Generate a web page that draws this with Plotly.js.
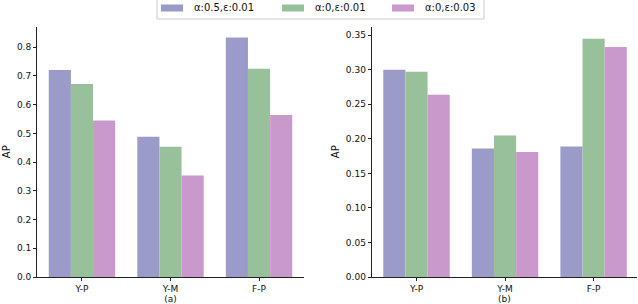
<!DOCTYPE html>
<html>
<head>
<meta charset="utf-8">
<script src="https://cdn.plot.ly/plotly-3.0.1.min.js"></script>
<style>html,body{margin:0;padding:0;background:#fff;}#chart{width:638px;height:304px;}</style>
</head>
<body>
<div id="chart"></div>
<script>
const categories = ["Y-P", "Y-M", "F-P"];
const seriesNames = ["α:0.5,ε:0.01", "α:0,ε:0.01", "α:0,ε:0.03"];
const seriesColors = ["#9b9bca", "#98c09a", "#ca99cb"];
// Panel (a)
const panelA_s1 = [0.721, 0.488, 0.834];
const panelA_s2 = [0.672, 0.453, 0.725];
const panelA_s3 = [0.545, 0.353, 0.564];
// Panel (b)
const panelB_s1 = [0.300, 0.186, 0.189];
const panelB_s2 = [0.297, 0.205, 0.345];
const panelB_s3 = [0.264, 0.181, 0.333];
const panelTitles = ["(a)", "(b)"];

const font = {family: "DejaVu Sans, sans-serif", size: 9, color: "#111"};
const titleFont = {family: "DejaVu Sans, sans-serif", size: 10, color: "#111"};
const A = [panelA_s1, panelA_s2, panelA_s3];
const B = [panelB_s1, panelB_s2, panelB_s3];
const traces = [];
[A, B].forEach((panel, p) => {
  panel.forEach((vals, i) => {
    traces.push({
      type: "bar", x: categories, y: vals, name: seriesNames[i],
      marker: {color: seriesColors[i], line: {width: 0}},
      xaxis: p === 0 ? "x" : "x2", yaxis: p === 0 ? "y" : "y2",
      showlegend: false, hoverinfo: "skip"
    });
  });
});

const xBase = {
  type: "category", showline: true, linecolor: "#222", linewidth: 1,
  ticks: "outside", ticklen: 3, tickcolor: "#222", showgrid: false, zeroline: false,
  tickfont: font, fixedrange: true
};
const yBase = {
  showline: true, linecolor: "#222", linewidth: 1,
  ticks: "outside", ticklen: 3, tickcolor: "#222", showgrid: false, zeroline: false,
  tickfont: font, fixedrange: true
};

const layout = {
  width: 638, height: 304,
  margin: {l: 0, r: 0, t: 0, b: 0},
  paper_bgcolor: "#fff", plot_bgcolor: "#fff",
  bargap: 0.25, bargroupgap: 0,
  barmode: "group",
  font: font,
  xaxis: Object.assign({}, xBase, {domain: [0.058, 0.4765], range: [-0.508, 2.508], anchor: "y",
    title: {text: panelTitles[0], font: font, standoff: 4}}),
  xaxis2: Object.assign({}, xBase, {domain: [0.5826, 0.9984], range: [-0.506, 2.49], anchor: "y2",
    title: {text: panelTitles[1], font: font, standoff: 4}}),
  yaxis: Object.assign({}, yBase, {domain: [0.0888, 0.9128], range: [0, 0.872], dtick: 0.1, tickformat: ".1f", anchor: "x",
    title: {text: "AP", font: titleFont, standoff: 4}}),
  yaxis2: Object.assign({}, yBase, {domain: [0.0888, 0.9128], range: [0, 0.3626], dtick: 0.05, tickformat: ".2f", anchor: "x2",
    title: {text: "AP", font: titleFont, standoff: 4}}),
  shapes: [],
  annotations: []
};

// Legend box (custom, drawn above the panels)
const legX = [161, 282, 392];
layout.shapes.push({type: "rect", xref: "paper", yref: "paper",
  x0: 157/638, x1: 484/638, y0: 1 - 19/304, y1: 1.02,
  line: {color: "#cccccc", width: 1}, fillcolor: "rgba(255,255,255,0.8)"});
seriesNames.forEach((n, i) => {
  layout.shapes.push({type: "rect", xref: "paper", yref: "paper",
    x0: legX[i]/638, x1: (legX[i]+22)/638, y0: 1 - 11.5/304, y1: 1 - 4.5/304,
    line: {width: 0}, fillcolor: seriesColors[i]});
  layout.annotations.push({xref: "paper", yref: "paper", x: (legX[i]+31)/638, y: 1 - 8/304,
    xanchor: "left", yanchor: "middle", text: n, showarrow: false,
    font: {family: "DejaVu Sans, sans-serif", size: 10, color: "#111"}});
});

Plotly.newPlot("chart", traces, layout, {displayModeBar: false, staticPlot: true});
</script>
</body>
</html>
